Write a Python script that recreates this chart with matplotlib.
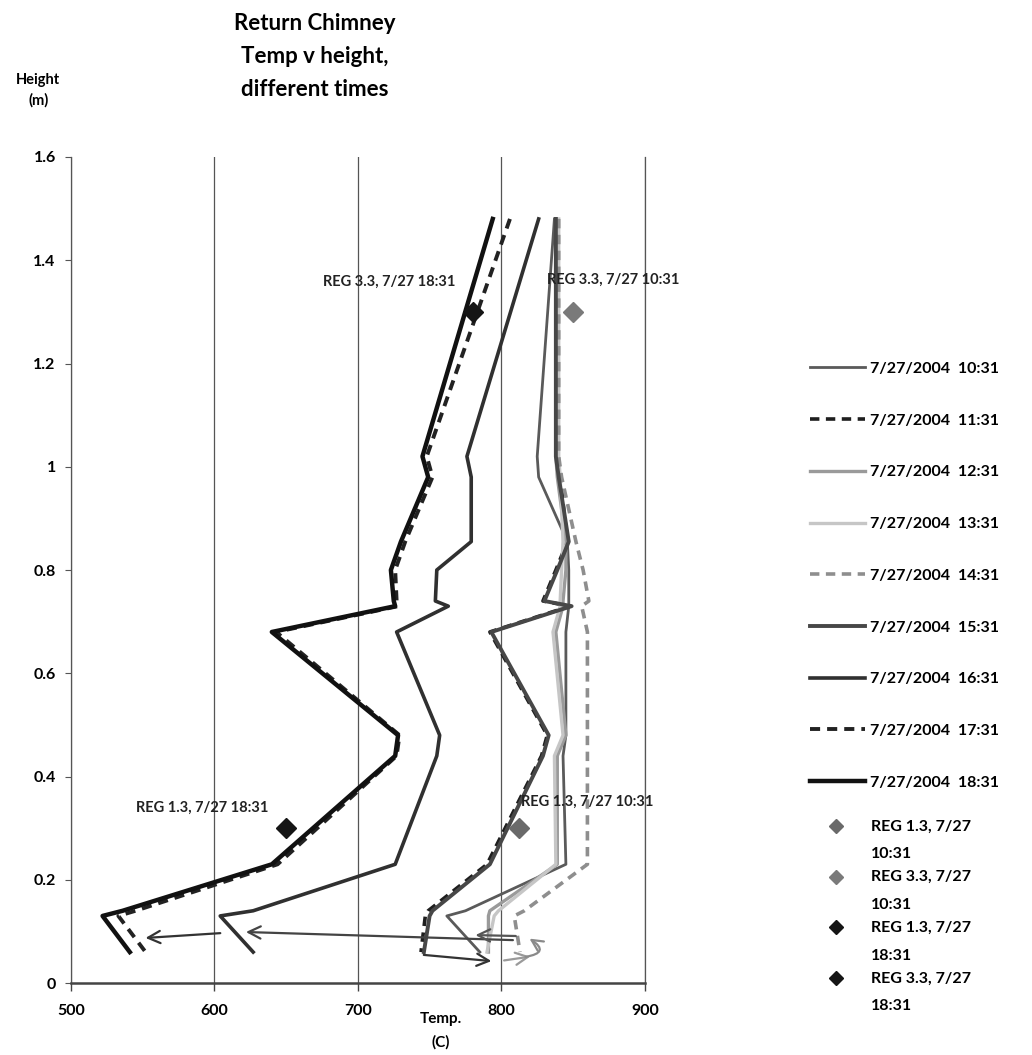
import matplotlib.pyplot as plt
from matplotlib.lines import Line2D
from matplotlib.legend_handler import HandlerLine2D

plt.rcParams["font.family"] = ["Lato", "DejaVu Sans"]
plt.rcParams["font.weight"] = "bold"

# measuring heights (m), shared by all profiles
heights = [1.48, 1.02, 0.98, 0.855, 0.80, 0.74, 0.73, 0.68, 0.48, 0.44, 0.23, 0.14, 0.13, 0.06]

times = ["7/27/2004  10:31", "7/27/2004  11:31", "7/27/2004  12:31",
         "7/27/2004  13:31", "7/27/2004  14:31", "7/27/2004  15:31",
         "7/27/2004  16:31", "7/27/2004  17:31", "7/27/2004  18:31"]

temp_1031 = [837, 825, 826, 846, 847, 847, 847, 845, 845, 843, 845, 775, 762, 785]
temp_1131 = [839, 839, 841, 846, 838, 829, 848, 792, 832, 828, 790, 749, 747, 744]
temp_1231 = [838, 838, 839, 845, 845, 843, 843, 838, 845, 839, 839, 792, 791, 791]
temp_1331 = [840, 840, 841, 843, 842, 841, 841, 836, 843, 837, 838, 798, 795, 790]
temp_1431 = [840, 840, 842, 852, 857, 861, 856, 860, 860, 860, 860, 816, 809, 813]
temp_1531 = [838, 838, 840, 847, 839, 830, 849, 793, 833, 829, 792, 752, 750, 746]
temp_1631 = [826, 776, 779, 779, 755, 754, 763, 727, 757, 755, 726, 627, 604, 627]
temp_1731 = [806, 748, 752, 733, 726, 727, 728, 643, 729, 727, 644, 545, 533, 552]
temp_1831 = [794, 745, 749, 730, 723, 725, 726, 640, 728, 726, 640, 536, 522, 541]

profiles = [temp_1031, temp_1131, temp_1231, temp_1331, temp_1431,
            temp_1531, temp_1631, temp_1731, temp_1831]

# (color, linestyle, width)
line_styles = [
    ("#5a5a5a", "-", 2.0),
    ("#1e1e1e", "--", 2.6),
    ("#9a9a9a", "-", 2.4),
    ("#c6c6c6", "-", 2.4),
    ("#8e8e8e", "--", 2.6),
    ("#474747", "-", 2.8),
    ("#303030", "-", 2.6),
    ("#222222", "--", 2.8),
    ("#111111", "-", 3.2),
]

reg_labels = ["REG 1.3, 7/27\n10:31", "REG 3.3, 7/27\n10:31",
              "REG 1.3, 7/27\n18:31", "REG 3.3, 7/27\n18:31"]
reg_notes = ["REG 1.3, 7/27 10:31", "REG 3.3, 7/27 10:31",
             "REG 1.3, 7/27 18:31", "REG 3.3, 7/27 18:31"]
reg_temp = [812, 850, 650, 780]
reg_height = [0.30, 1.30, 0.30, 1.30]
reg_colors = ["#6a6a6a", "#7a7a7a", "#151515", "#151515"]

# hand-drawn arrows: tail -> head (temp, height)
arrow_tail = [(606, 0.097), (810, 0.083), (812, 0.091), (744, 0.055), (800, 0.043)]
arrow_head = [(550, 0.087), (620, 0.099), (780, 0.093), (795, 0.042), (822, 0.052)]
arrow_colors = ["#333333", "#444444", "#555555", "#333333", "#9a9a9a"]


class FirstLineMarker(HandlerLine2D):
    """Put the legend marker level with the first line of a two-line label."""

    def create_artists(self, legend, orig_handle, xdescent, ydescent,
                       width, height, fontsize, trans):
        artists = super().create_artists(legend, orig_handle, xdescent, ydescent,
                                         width, height, fontsize, trans)
        for a in artists:
            a.set_ydata([y + 0.9 * fontsize for y in a.get_ydata()])
        return artists


fig = plt.figure(figsize=(10.32, 10.55), dpi=100)
ax = fig.add_axes([0.0688, 0.0682, 0.556, 0.783])

for temps, (color, ls, lw) in zip(profiles, line_styles):
    line, = ax.plot(temps, heights, color=color, linestyle=ls, linewidth=lw)
    if ls == "--":
        line.set_dashes((2.6, 1.8))

for t, h, c in zip(reg_temp, reg_height, reg_colors):
    ax.plot(t, h, marker="D", color=c, markersize=10, linestyle="none")

note_style = dict(fontsize=10.5, fontweight="bold", color="#222222")
ax.text(814, 0.351, reg_notes[0], ha="left", va="center", **note_style)
ax.text(832, 1.362, reg_notes[1], ha="left", va="center", **note_style)
ax.text(545, 0.339, reg_notes[2], ha="left", va="center", **note_style)
ax.text(768, 1.358, reg_notes[3], ha="right", va="center", **note_style)

for tail, head, c in zip(arrow_tail, arrow_head, arrow_colors):
    ax.annotate("", xy=head, xytext=tail,
                arrowprops=dict(arrowstyle="->", color=c, lw=1.6, mutation_scale=22))
# curled arrow near the bottom right
ax.annotate("", xy=(818, 0.089), xytext=(815, 0.050),
            arrowprops=dict(arrowstyle="->", color="#8a8a8a", lw=1.6, mutation_scale=20,
                            connectionstyle="arc3,rad=1.4"))

ax.set_xlim(500, 900)
ax.set_ylim(0, 1.6)
ax.set_xticks([500, 600, 700, 800, 900])
ax.set_yticks([0, 0.2, 0.4, 0.6, 0.8, 1.0, 1.2, 1.4, 1.6])
ax.set_yticklabels(["0", "0.2", "0.4", "0.6", "0.8", "1", "1.2", "1.4", "1.6"])
ax.tick_params(axis="y", length=4, width=0.8, color="#555555", pad=7, labelsize=11.5)
ax.tick_params(axis="x", length=6, width=1.0, color="#444444", pad=9, labelsize=11.5)
ax.grid(axis="x", color="#555555", linewidth=0.9)
ax.set_axisbelow(True)
ax.spines["top"].set_visible(False)
ax.spines["right"].set_color("#555555")
ax.spines["right"].set_linewidth(0.9)
ax.spines["left"].set_color("#555555")
ax.spines["left"].set_linewidth(0.9)
ax.spines["bottom"].set_color("#444444")
ax.spines["bottom"].set_linewidth(1.8)

fig.text(0.305, 0.988, "Return Chimney\nTemp v height,\ndifferent times",
         ha="center", va="top", fontsize=16, fontweight="bold", linespacing=1.72)
fig.text(0.037, 0.931, "Height\n(m)", ha="center", va="top", fontsize=10.5,
         fontweight="bold", linespacing=1.55)
fig.text(0.427, 0.041, "Temp.\n(C)", ha="center", va="top", fontsize=11,
         fontweight="bold", linespacing=1.8)

line_handles = [Line2D([], [], color=c, linestyle=ls, linewidth=lw, dashes=(2.6, 1.8))
                if ls == "--" else Line2D([], [], color=c, linestyle=ls, linewidth=lw)
                for c, ls, lw in line_styles]
leg1 = fig.legend(line_handles, times, loc="upper left", bbox_to_anchor=(0.785, 0.657),
                  frameon=False, fontsize=11.5, handlelength=3.45, handletextpad=0.3,
                  labelspacing=2.35, borderpad=0, borderaxespad=0)

marker_handles = [Line2D([], [], marker="D", color=c, linestyle="none", markersize=7)
                  for c in reg_colors]
leg2 = fig.legend(marker_handles, reg_labels, loc="upper left", bbox_to_anchor=(0.785, 0.223),
                  frameon=False, fontsize=11.5, handlelength=3.3, handletextpad=0.5,
                  labelspacing=0.55, borderpad=0, borderaxespad=0,
                  handler_map={Line2D: FirstLineMarker()})
for t in leg2.get_texts():
    t.set_linespacing(2.25)

fig.savefig("out.png", dpi=100)
